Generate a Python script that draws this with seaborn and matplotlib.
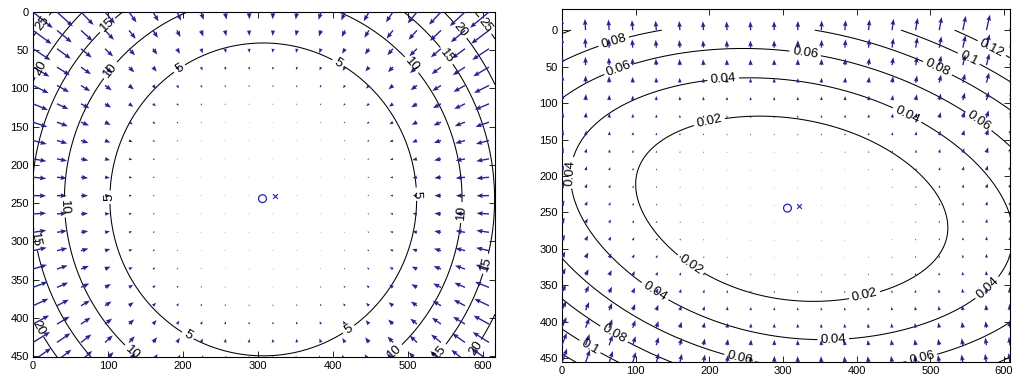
import numpy as np
import matplotlib
matplotlib.use("Agg")
import matplotlib.pyplot as plt
import seaborn as sns
import pandas as pd

# ---------------- data ----------------
# left panel: radial field, contour levels and the radius at which each level sits
left_levels = [5, 10, 15, 20, 25]
left_level_radii = [205, 263, 310, 345, 372]
left_center = [307, 245]
left_xlim = [0, 616]
left_ylim = [451, 0]

# right panel: residual field, model coefficients
right_levels = [0.02, 0.04, 0.06, 0.08, 0.10, 0.12]
right_center = [307, 245]
# terms:            dx^2      dx*dy     dy^2     dx        dy   dx^2*dy^2
right_u_coef = [1.63e-7, -3.38e-7, 0.0, -1.64e-5, 0.0, 0.0]
right_up_coef = [4.38e-7, -2.80e-7, 1.28e-6, 0.0, 0.0, 1.0e-12]
right_xlim = [0, 608]
right_ylim = [455, -29]

# markers (o = estimated centre, x = reference centre)
marker_o = [306, 244]
marker_x = [322, 241]

# quiver sampling grid
grid_x = np.arange(0, 616, 32)
grid_y = np.arange(0, 460, 24)

ticks_x = [0, 100, 200, 300, 400, 500, 600]
ticks_y = [0, 50, 100, 150, 200, 250, 300, 350, 400, 450]

# contour label positions
left_label_pos = [(13, 15), (7, 72), (99, 17), (103, 76), (192, 69),
                  (409, 63), (507, 67), (556, 54), (569, 24), (600, 20),
                  (99, 242), (43, 255), (5, 298), (516, 238), (569, 262), (607, 330),
                  (207, 422), (139, 438), (9, 412), (419, 412), (476, 438),
                  (536, 440), (580, 433)]
right_label_pos = [(73, 25), (82, 66), (330, 32), (219, 71), (201, 130),
                   (505, 62), (546, 51), (582, 27), (465, 123), (557, 137),
                   (5, 195), (178, 316), (130, 352), (43, 425), (76, 407),
                   (242, 446), (408, 352), (368, 418), (485, 436), (565, 340)]

# ---------------- fields ----------------
p = np.polyfit(np.log(left_level_radii), np.log(left_levels), 1)


def left_field(X, Y):
    dx = X - left_center[0]
    dy = Y - left_center[1]
    r = np.maximum(np.hypot(dx, dy), 1e-6)
    m = np.exp(np.polyval(p, np.log(r)))
    return -m * dx / r, -m * dy / r, m


def right_field(X, Y):
    dx = X - right_center[0]
    dy = Y - right_center[1]
    basis = [dx ** 2, dx * dy, dy ** 2, dx, dy, dx ** 2 * dy ** 2]
    u = sum(c * b for c, b in zip(right_u_coef, basis))
    v = -sum(c * b for c, b in zip(right_up_coef, basis))
    return u, v, np.hypot(u, v)


# ---------------- drawing ----------------
sns.set_theme(style="ticks")
plt.rcParams["font.family"] = ["Liberation Sans", "DejaVu Sans"]

fig = plt.figure(figsize=(10.14, 3.81), dpi=100)
ax1 = fig.add_axes([33 / 1014, 24 / 381, 462 / 1014, 345 / 381])
ax2 = fig.add_axes([562 / 1014, 19 / 381, 448 / 1014, 353 / 381])

arrow_color = "#25258f"

panels = [
    (ax1, left_field, left_levels, left_xlim, left_ylim, left_label_pos, 0.85),
    (ax2, right_field, right_levels, right_xlim, right_ylim, right_label_pos, 0.0062),
]

for ax, field, levels, xlim, ylim, lab_pos, qscale in panels:
    ax.set_xlim(xlim)
    ax.set_ylim(ylim)
    fx = np.linspace(0, 616, 220)
    fy = np.linspace(0, 456, 170)
    FX, FY = np.meshgrid(fx, fy)
    _, _, M = field(FX, FY)
    cs = ax.contour(FX, FY, M, levels=levels, colors="black", linewidths=0.75)
    ax.clabel(cs, manual=lab_pos, inline=True, fmt="%g", fontsize=9.5,
              inline_spacing=3)
    QX, QY = np.meshgrid(grid_x, grid_y)
    U, V, _ = field(QX.astype(float), QY.astype(float))
    ax.quiver(QX, QY, U, V, color=arrow_color, angles="xy", scale_units="xy",
              scale=qscale, width=0.003, headwidth=3.5, headlength=4.5,
              headaxislength=4, minlength=0.5, zorder=3)
    mk = pd.DataFrame({"x": [marker_o[0]], "y": [marker_o[1]]})
    sns.scatterplot(data=mk, x="x", y="y", ax=ax, marker="o", s=32,
                    facecolor="none", edgecolor="#2020c0", linewidth=0.9,
                    legend=False, zorder=5)
    mk2 = pd.DataFrame({"x": [marker_x[0]], "y": [marker_x[1]]})
    sns.scatterplot(data=mk2, x="x", y="y", ax=ax, marker="x", s=12,
                    color="#2020c0", linewidth=0.8, legend=False, zorder=5)
    ax.set_xlim(xlim)
    ax.set_ylim(ylim)
    ax.set_xticks(ticks_x)
    ax.set_yticks(ticks_y)
    ax.set_xlabel("")
    ax.set_ylabel("")
    ax.tick_params(direction="in", top=True, right=True, length=4, width=0.6,
                   labelsize=8, colors="black", pad=3)
    for s in ax.spines.values():
        s.set_visible(True)
        s.set_color("black")
        s.set_linewidth(0.8)

fig.savefig("out.png", dpi=100, facecolor="white")
